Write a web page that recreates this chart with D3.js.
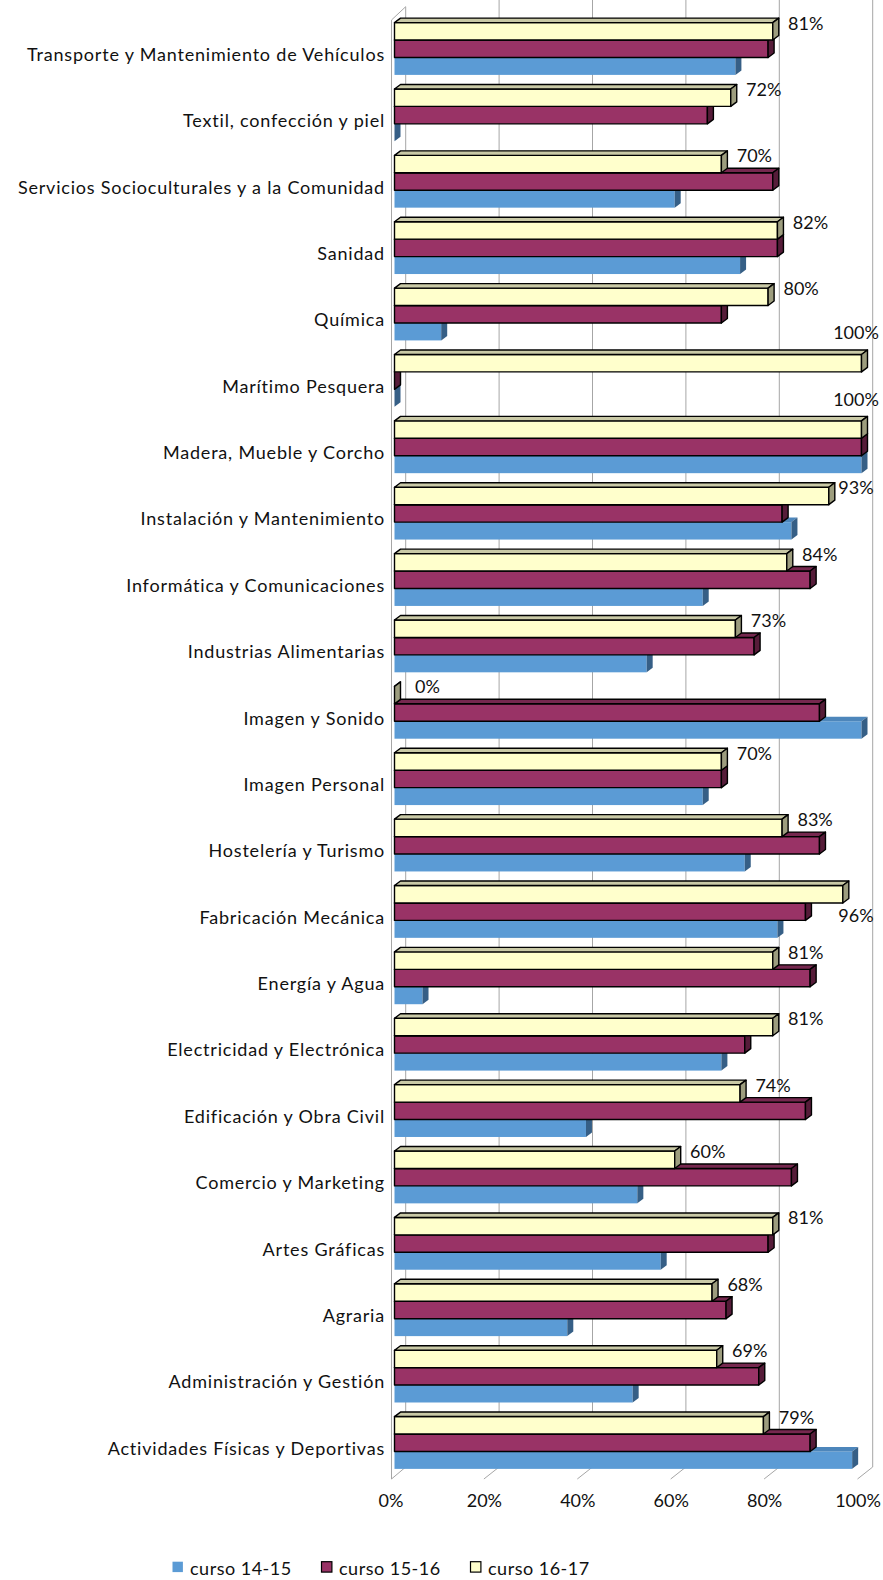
<!DOCTYPE html>
<html>
<head>
<meta charset="utf-8">
<script src="https://cdn.jsdelivr.net/npm/d3@7"></script>
<style>
body { margin: 0; background: #fff; }
text { font-family: Lato, "Open Sans", sans-serif; fill: #111; }
</style>
</head>
<body>
<div id="chart"></div>
<script>
// categories, top to bottom
var categories = [
  "Transporte y Mantenimiento de Vehículos",
  "Textil, confección y piel",
  "Servicios Socioculturales y a la Comunidad",
  "Sanidad",
  "Química",
  "Marítimo Pesquera",
  "Madera, Mueble y Corcho",
  "Instalación y Mantenimiento",
  "Informática y Comunicaciones",
  "Industrias Alimentarias",
  "Imagen y Sonido",
  "Imagen Personal",
  "Hostelería y Turismo",
  "Fabricación Mecánica",
  "Energía y Agua",
  "Electricidad y Electrónica",
  "Edificación y Obra Civil",
  "Comercio y Marketing",
  "Artes Gráficas",
  "Agraria",
  "Administración y Gestión",
  "Actividades Físicas y Deportivas"
];

var curso1415 = [73, 0, 60, 74, 10, 0, 100, 85, 66, 54, 100, 66, 75, 82, 6, 70, 41, 52, 57, 37, 51, 98];
var curso1516 = [80, 67, 81, 82, 70, 0, 100, 83, 89, 77, 91, 70, 91, 88, 89, 75, 88, 85, 80, 71, 78, 89];
var curso1617 = [81, 72, 70, 82, 80, 100, 100, 93, 84, 73, 0, 70, 83, 96, 81, 81, 74, 60, 81, 68, 69, 79];

var seriesNames = ["curso 14-15", "curso 15-16", "curso 16-17"];
var tickValues = [0, 20, 40, 60, 80, 100];

var width = 883, height = 1580;

var svg = d3.select("#chart").append("svg")
    .attr("width", width)
    .attr("height", height);

var x = d3.scaleLinear().domain([0, 100]).range([394.5, 861.5]);

var y = d3.scaleBand()
    .domain(categories)
    .range([15.55, 15.55 + 22 * 66.38])
    .paddingInner(0.212)
    .paddingOuter(0.106);

// order of bars inside a group, top to bottom
var inner = d3.scaleBand()
    .domain(["curso 16-17", "curso 15-16", "curso 14-15"])
    .range([0, y.bandwidth()]);

var styles = {
  "curso 14-15": { front: "#5b9bd5", top: "#4d86bb", side: "#365f86", stroke: "none" },
  "curso 15-16": { front: "#993366", top: "#76284f", side: "#561c39", stroke: "#000" },
  "curso 16-17": { front: "#ffffcc", top: "#c9c9a6", side: "#9d9d7e", stroke: "#000" }
};

var dx = 6, dy = 4.5;          // bar depth
var wdx = 11.2, wdy = 12;       // wall / floor depth
var floorY = 1479;

// back wall grid
var grid = svg.append("g").attr("stroke", "#a6a6a6").attr("stroke-width", 1).attr("fill", "none");
grid.selectAll("line.v")
  .data(tickValues.slice(1))
  .enter().append("line")
    .attr("x1", function(d) { return x(d) + wdx; })
    .attr("x2", function(d) { return x(d) + wdx; })
    .attr("y1", 0)
    .attr("y2", floorY - wdy);
grid.selectAll("line.f")
  .data(tickValues.slice(1))
  .enter().append("line")
    .attr("x1", function(d) { return x(d) - 4; })
    .attr("y1", floorY)
    .attr("x2", function(d) { return x(d) + wdx; })
    .attr("y2", floorY - wdy);

// left wall
var x0 = x(0);
grid.append("path")
  .attr("d", "M" + (x0 - 3) + "," + floorY + "V20L" + (x0 + wdx) + ",6.7V" + (floorY - wdy) + "Z");

function bar3d(g, v, yy, h, s) {
  var a = x(0), b = x(v);
  g.append("rect")
    .attr("x", a).attr("y", yy)
    .attr("width", b - a).attr("height", h)
    .attr("fill", s.front).attr("stroke", s.stroke);
  g.append("path")
    .attr("d", "M" + a + "," + yy + "L" + (a + dx) + "," + (yy - dy) + "H" + (b + dx) + "L" + b + "," + yy + "Z")
    .attr("fill", s.top).attr("stroke", s.stroke);
  g.append("path")
    .attr("d", "M" + b + "," + yy + "L" + (b + dx) + "," + (yy - dy) + "V" + (yy + h - dy) + "L" + b + "," + (yy + h) + "Z")
    .attr("fill", s.side).attr("stroke", s.stroke);
}

var values = { "curso 14-15": curso1415, "curso 15-16": curso1516, "curso 16-17": curso1617 };

var bars = svg.append("g").attr("stroke-width", 1.4).attr("stroke-linejoin", "round");
categories.forEach(function(c, i) {
  var g = bars.append("g");
  // draw bottom bar first so the upper ones cover its top face
  ["curso 14-15", "curso 15-16", "curso 16-17"].forEach(function(s) {
    bar3d(g, values[s][i], y(c) + inner(s), inner.bandwidth(), styles[s]);
  });
});

// value labels of the last course
svg.append("g").selectAll("text")
  .data(categories)
  .enter().append("text")
    .attr("text-anchor", "middle")
    .attr("dominant-baseline", "central")
    .style("font-size", "18px")
    .each(function(c, i) {
      var v = curso1617[i];
      var cx = x(v) + 33, cy = y(c);
      if (cx > 870) {
        cy = v >= 99 ? y(c) - 22 : y(c) + 29;
      }
      cx = Math.min(cx, 856);
      d3.select(this).attr("x", cx).attr("y", cy);
    })
    .text(function(c, i) { return curso1617[i] + "%"; });

// category labels
svg.append("g").selectAll("text")
  .data(categories)
  .enter().append("text")
    .attr("x", 385)
    .attr("y", function(d) { return y(d) + y.bandwidth() / 2 + 5; })
    .attr("text-anchor", "end")
    .attr("dominant-baseline", "central")
    .style("font-size", "18px")
    .style("letter-spacing", "0.8px")
    .text(function(d) { return d; });

// x tick labels
svg.append("g").selectAll("text")
  .data(tickValues)
  .enter().append("text")
    .attr("x", function(d) { return x(d) - 3.5; })
    .attr("y", 1500)
    .attr("text-anchor", "middle")
    .attr("dominant-baseline", "central")
    .style("font-size", "18px")
    .text(function(d) { return d + "%"; });

// legend
var legend = svg.append("g").selectAll("g")
  .data(seriesNames)
  .enter().append("g")
    .attr("transform", function(d, i) { return "translate(" + (172.5 + i * 149) + ",1561.7)"; });
legend.append("rect")
  .attr("width", 10.4).attr("height", 10.4)
  .attr("fill", function(d) { return styles[d].front; })
  .attr("stroke", function(d) { return styles[d].stroke; })
  .attr("stroke-width", 1.2);
legend.append("text")
  .attr("x", 17.5)
  .attr("y", 6)
  .attr("dominant-baseline", "central")
  .style("font-size", "18px")
  .style("letter-spacing", "0.5px")
  .text(function(d) { return d; });
</script>
</body>
</html>
